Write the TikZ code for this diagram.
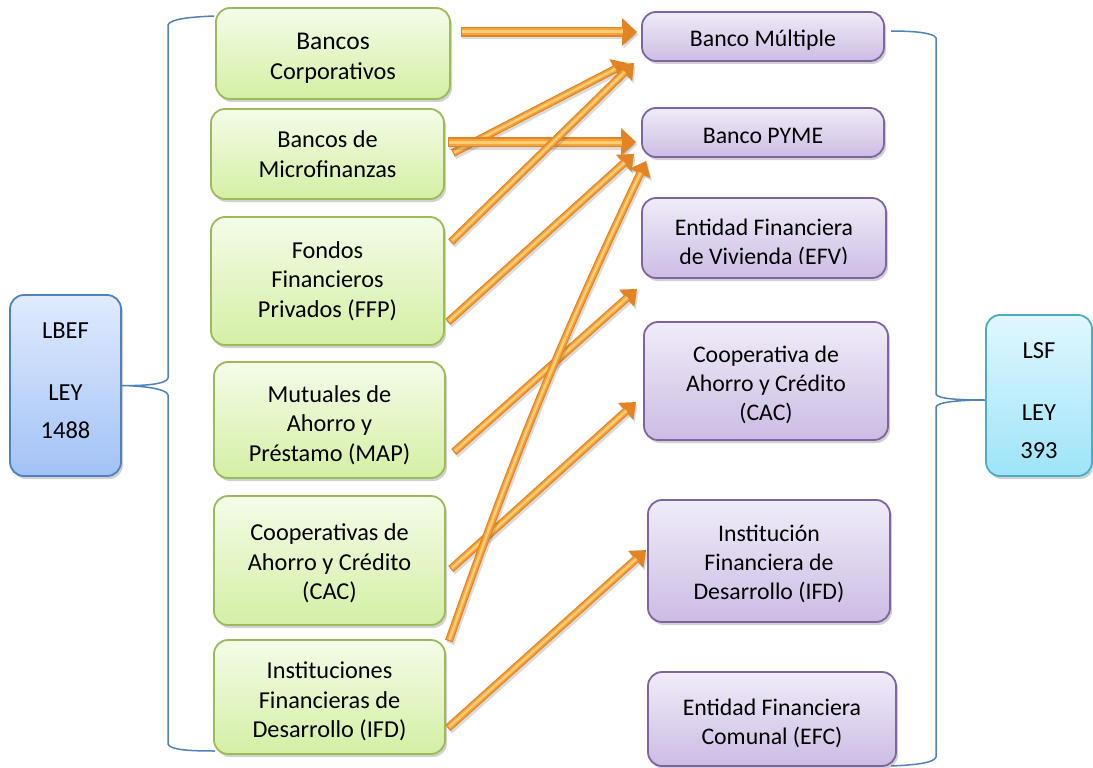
\documentclass[tikz,border=0pt]{standalone}
\usepackage{fontspec}
\setmainfont{Carlito}
\usetikzlibrary{arrows.meta,shadows,calc}
\definecolor{gtop}{RGB}{244,252,232}
\definecolor{gbot}{RGB}{212,239,164}
\definecolor{gborder}{RGB}{155,187,89}
\definecolor{ptop}{RGB}{240,236,248}
\definecolor{pbot}{RGB}{204,188,228}
\definecolor{pborder}{RGB}{128,100,162}
\definecolor{btop}{RGB}{224,235,253}
\definecolor{bbot}{RGB}{162,194,246}
\definecolor{bborder}{RGB}{79,129,189}
\definecolor{ctop}{RGB}{224,247,254}
\definecolor{cbot}{RGB}{158,228,249}
\definecolor{cborder}{RGB}{75,172,198}
\definecolor{brace}{RGB}{79,129,189}
\definecolor{adark}{RGB}{226,132,36}
\definecolor{amid}{RGB}{243,164,62}
\definecolor{alight}{RGB}{255,204,112}
\tikzset{
  box/.style={rounded corners=14pt, line width=1.8pt, inner sep=0pt,
    drop shadow={shadow xshift=2pt,shadow yshift=-3pt,opacity=.3,fill=black!60}},
  gbox/.style={box, draw=gborder, top color=gtop, bottom color=gbot},
  pbox/.style={box, draw=pborder, top color=ptop, bottom color=pbot},
  lbox/.style={box, draw=bborder, top color=btop, bottom color=bbot},
  rbox/.style={box, draw=cborder, top color=ctop, bottom color=cbot},
  gtext/.style={inner sep=0pt, align=center, font=\fontsize{24.3}{29.5}\selectfont},
  ptext/.style={inner sep=0pt, align=center, font=\fontsize{23.8}{29}\selectfont},
  ltext/.style={inner sep=0pt, align=center, font=\fontsize{24.5}{30}\selectfont},
  bracel/.style={draw=brace, line width=1.5pt},
  harr/.style={line width=10pt, -{Triangle[length=15pt,width=27pt]}},
  harrmid/.style={line width=7pt, draw=amid, shorten >=14pt, shorten <=1pt},
  harrhl/.style={line width=3pt, draw=alight, shorten >=14pt, shorten <=1.5pt},
  darr/.style={line width=8pt, -{Triangle[length=14pt,width=22pt]}},
  darrmid/.style={line width=5.5pt, draw=amid, shorten >=13pt, shorten <=1pt},
  darrhl/.style={line width=2.4pt, draw=alight, shorten >=13pt, shorten <=1.5pt},
}
\newcommand\orarrow[2]{%
  \draw[#1, draw=black!70, opacity=.2, transform canvas={shift={(1.5pt,-2.5pt)}}] #2;
  \draw[#1, draw=adark] #2;
  \draw[#1mid] #2;
  \draw[#1hl] #2;
}
\begin{document}
\begin{tikzpicture}[x=1pt,y=-1pt]
\useasboundingbox (0,0) rectangle (1093,768);

% left green boxes
\node[gbox, minimum width=234pt, minimum height=91pt] (g1) at (333,53.5) {};
\node[gtext] (g1t) at ([yshift=-5pt]g1.center) {{\fontsize{25.5}{29.5}\selectfont Bancos}\\Corporativos};
\node[gbox, minimum width=233pt, minimum height=90pt] (g2) at (327.5,154) {};
\node[gtext] (g2t) at ([yshift=0pt]g2.center) {Bancos de\\Microfinanzas};
\node[gbox, minimum width=233pt, minimum height=128pt] (g3) at (327.5,281) {};
\node[gtext] (g3t) at ([yshift=0pt]g3.center) {Fondos\\Financieros\\Privados (FFP)};
\node[gbox, minimum width=231pt, minimum height=116pt] (g4) at (329.5,420) {};
\node[gtext] (g4t) at ([yshift=-5pt]g4.center) {Mutuales de\\Ahorro y\\Préstamo (MAP)};
\node[gbox, minimum width=231pt, minimum height=129pt] (g5) at (329.5,560.5) {};
\node[gtext] (g5t) at ([yshift=-3pt]g5.center) {Cooperativas de\\Ahorro y Crédito\\(CAC)};
\node[gbox, minimum width=231pt, minimum height=114pt] (g6) at (329.5,697) {};
\node[gtext] (g6t) at ([yshift=-4.5pt]g6.center) {Instituciones\\Financieras de\\Desarrollo (IFD)};

% right purple boxes
\node[pbox, minimum width=242pt, minimum height=49pt] (p1) at (763,36.5) {};
\begin{scope}
  \clip (p1.north west) rectangle ([yshift=12.5pt]p1.south east);
  \node[ptext, anchor=base] (p1t) at (763,46.5) {Banco Múltiple};
\end{scope}
\node[pbox, minimum width=242pt, minimum height=49pt] (p2) at (763,132.5) {};
\node[ptext, anchor=base] (p2t) at (763,143) {Banco PYME};
\node[pbox, minimum width=244pt, minimum height=80pt] (p3) at (764,238) {};
\begin{scope}
  \clip (p3.north west) rectangle ([yshift=15pt]p3.south east);
  \node[ptext, anchor=base] (p3a) at (764,235) {Entidad Financiera};
  \node[ptext, anchor=base] (p3b) at (764,264.5) {de Vivienda (EFV)};
\end{scope}
\node[pbox, minimum width=244pt, minimum height=118pt] (p4) at (766,381) {};
\node[ptext] (p4t) at ([yshift=-3.5pt]p4.center) {Cooperativa de\\Ahorro y Crédito\\(CAC)};
\node[pbox, minimum width=242pt, minimum height=122pt] (p5) at (769,561) {};
\node[ptext] (p5t) at ([yshift=-3pt]p5.center) {Institución\\Financiera de\\Desarrollo (IFD)};
\node[pbox, minimum width=248pt, minimum height=94pt] (p6) at (772,719) {};
\node[ptext] (p6t) at ([yshift=-4.5pt]p6.center) {Entidad Financiera\\Comunal (EFC)};

% law boxes
\node[lbox, minimum width=111pt, minimum height=181pt] (lbef) at (65.5,385.5) {};
\node[ltext] (lbeft) at ([yshift=5pt]lbef.center) {LBEF\\[32pt]LEY\\[8pt]1488};
\node[rbox, minimum width=106pt, minimum height=161pt] (lsf) at (1039,395.5) {};
\node[ltext] (lsft) at ([yshift=-5pt]lsf.center) {LSF\\[32pt]LEY\\[8pt]393};

% braces
\draw[bracel] ([xshift=-1pt,yshift=37.5pt]g1.west) .. controls (190,17) and (170,19) .. (168,25)
  -- (168,378) .. controls (167,384) and (145,386) .. (lbef.east)
  .. controls (145,386) and (167,389) .. (168,395)
  -- (168,744) .. controls (170,750) and (190,751) .. (215,751);
\draw[bracel] (891,31) .. controls (915,31) and (934,33) .. (936,38)
  -- (936,394) .. controls (937,399) and (960,400) .. ([yshift=-4.5pt]lsf.west)
  .. controls (960,400) and (937,402) .. (936,407)
  -- (936,757) .. controls (934,763) and (915,765) .. (891,766);

% arrows
\orarrow{darr}{([shift={(8pt,1pt)}]g2.east) -- ([shift={(-14pt,-1pt)}]p1.south west)}
\orarrow{harr}{([shift={(10pt,21.5pt)}]g1.east) -- ([shift={(-4pt,4.5pt)}]p1.west)}
\orarrow{harr}{([shift={(3pt,12pt)}]g2.east) -- ([shift={(-5pt,-9.5pt)}]p2.west)}
\orarrow{darr}{([shift={(6pt,39pt)}]g3.east) -- ([shift={(-7pt,-1pt)}]p1.south west)}
\orarrow{darr}{([shift={(3pt,-41pt)}]g3.east) -- ([shift={(-7pt,4pt)}]p2.south west)}
\orarrow{darr}{([shift={(8pt,-32pt)}]g4.east) -- ([shift={(-4pt,-10pt)}]p3.south west)}
\orarrow{darr}{([shift={(5pt,-8.5pt)}]g5.east) -- ([shift={(-7pt,-21pt)}]p4.west)}
\orarrow{darr}{([shift={(3pt,-2pt)}]g6.north east) to[bend left=3] ([shift={(5pt,-3pt)}]p2.south west)}
\orarrow{darr}{([shift={(2pt,-31pt)}]g6.east) -- ([shift={(-1pt,11pt)}]p5.west)}
\end{tikzpicture}
\end{document}
